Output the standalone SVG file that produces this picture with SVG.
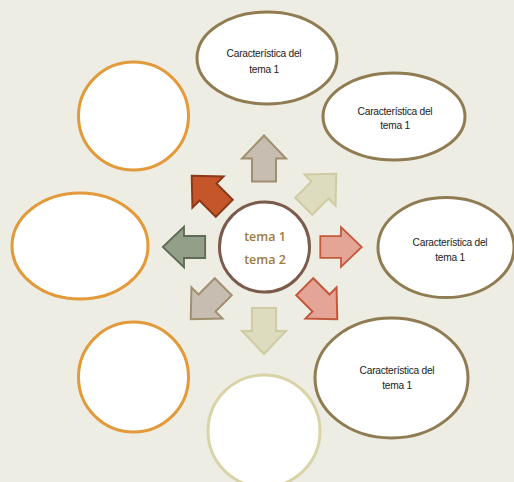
<svg xmlns="http://www.w3.org/2000/svg" width="514" height="482" viewBox="0 0 514 482">
  <defs>
    <style>
      .bg { fill: #eeede4; }
      .feat { fill: #ffffff; stroke: #8f7c52; stroke-width: 3; }
      .blank { fill: #ffffff; stroke: #e29a3a; stroke-width: 3; }
      .pale { fill: #ffffff; stroke: #d8d4a8; stroke-width: 3; }
      .hub { fill: #ffffff; stroke: #7b5c4c; stroke-width: 3; }
      .lbl { font-family: "Liberation Sans", "Open Sans", sans-serif; font-size: 10.2px; letter-spacing: -0.25px; fill: #222222; text-anchor: middle; }
      .hubt { font-family: "Open Sans", "Liberation Sans", sans-serif; font-size: 12.5px; font-weight: 600; fill: #a07a3a; text-anchor: middle; }
      .arr { stroke-width: 2; stroke-linejoin: miter; }
      .taupe { fill: #c7bdb0; stroke: #a09070; }
      .olive { fill: #dedcbe; stroke: #cfcba2; }
      .pink { fill: #e4a596; stroke: #c4583c; }
      .green { fill: #939f88; stroke: #5f6b55; }
      .rust { fill: #c5562a; stroke: #8a3a1a; }
    </style>
    <path id="arrow" d="M0,-23 L22,0 L12,0 L12,23 L-12,23 L-12,0 L-22,0 Z"/>
  </defs>
  <rect class="bg" x="0" y="0" width="514" height="482"/>

  <g id="connectors">
    <use href="#arrow" class="arr taupe" transform="translate(264,158.5)"/>
    <use href="#arrow" class="arr olive" transform="translate(320,190) rotate(45)"/>
    <use href="#arrow" class="arr pink" transform="translate(341,247) rotate(90) scale(0.9)"/>
    <use href="#arrow" class="arr pink" transform="translate(321,303) rotate(135)"/>
    <use href="#arrow" class="arr olive" transform="translate(264,331) rotate(180)"/>
    <use href="#arrow" class="arr taupe" transform="translate(207,303) rotate(225)"/>
    <use href="#arrow" class="arr green" transform="translate(184,247) rotate(270) scale(0.92)"/>
    <use href="#arrow" class="arr rust" transform="translate(208,192) rotate(315)"/>
  </g>

  <g id="hub">
    <circle class="hub" cx="264.5" cy="247" r="45"/>
    <text class="hubt" x="265" y="241">tema 1</text>
    <text class="hubt" x="265" y="264">tema 2</text>
  </g>

  <g id="feature-top">
    <ellipse class="feat" cx="267" cy="58" rx="70" ry="46"/>
    <text class="lbl" x="264" y="57">Característica del</text>
    <text class="lbl" x="264" y="73">tema 1</text>
  </g>
  <g id="feature-upper-right">
    <ellipse class="feat" cx="394" cy="116.5" rx="71" ry="43.5"/>
    <text class="lbl" x="395" y="115">Característica del</text>
    <text class="lbl" x="395" y="129">tema 1</text>
  </g>
  <g id="feature-right">
    <ellipse class="feat" cx="446" cy="247.5" rx="68" ry="50"/>
    <text class="lbl" x="450" y="246">Característica del</text>
    <text class="lbl" x="450" y="261">tema 1</text>
  </g>
  <g id="feature-lower-right">
    <ellipse class="feat" cx="391.5" cy="378" rx="76.5" ry="60"/>
    <text class="lbl" x="397" y="374">Característica del</text>
    <text class="lbl" x="397" y="389">tema 1</text>
  </g>

  <g id="blank-upper-left">
    <ellipse class="blank" cx="133.5" cy="116" rx="55" ry="54"/>
  </g>
  <g id="blank-left">
    <ellipse class="blank" cx="80" cy="246" rx="68" ry="53"/>
  </g>
  <g id="blank-lower-left">
    <ellipse class="blank" cx="133.5" cy="377" rx="55" ry="55"/>
  </g>
  <g id="blank-bottom">
    <circle class="pale" cx="264" cy="431" r="56"/>
  </g>
</svg>
